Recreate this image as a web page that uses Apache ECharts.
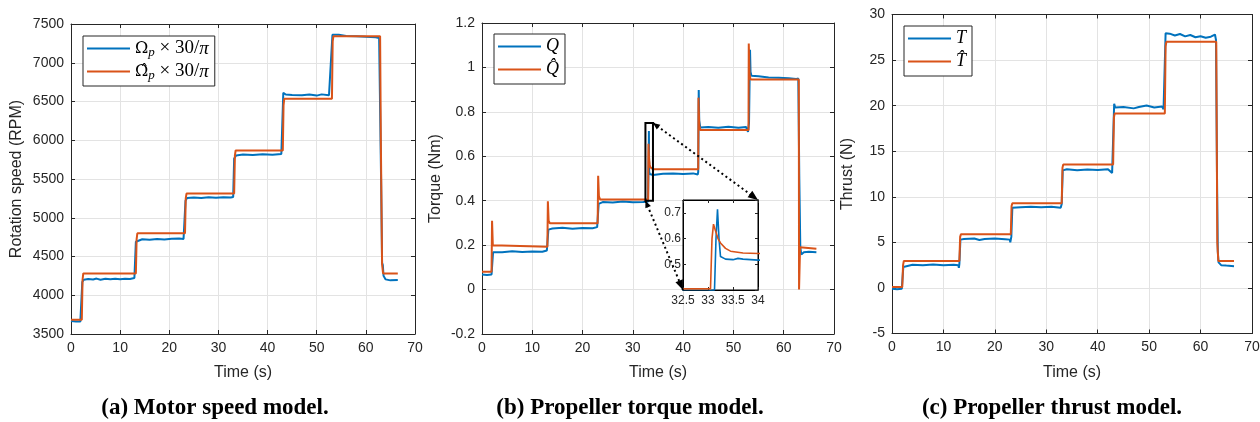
<!DOCTYPE html>
<html><head><meta charset="utf-8">
<script src="https://cdn.jsdelivr.net/npm/echarts@6/dist/echarts.min.js"></script>
<style>html,body{margin:0;padding:0;background:#fff}#c{width:1260px;height:422px}</style>
</head><body><div id="c"></div>
<script>
// ---------------- data ----------------
const timeTicks = [0, 70, 10];            // min, max, step
const speedTicks = [3500, 7500, 500];
const torqueTicks = [-0.2, 1.2, 0.2];
const thrustTicks = [-5, 30, 5];
const zoomXTicks = [32.5, 34, 0.5];
const zoomYTicks = [0.4, 0.75, 0.1];

const axisNamesY = ['Rotation speed (RPM)', 'Torque (Nm)', 'Thrust (N)'];
const axisNameX = 'Time (s)';
const captions = ['(a) Motor speed model.', '(b) Propeller torque model.', '(c) Propeller thrust model.'];
const legendNames = ['Ωp × 30/π', 'Ω̂p × 30/π', 'Q', 'Q̂', 'T', 'T̂'];

// motor speed (RPM) : [time s, value]
const speedMeasured = [[0,3668],[1,3662],[1.9,3660],[2.05,3640],[2.15,3635],[2.3,4170],[2.6,4200],[3.5,4210],[4.5,4204],[5.2,4215],[6,4200],[7,4212],[8,4205],[9,4213],[10,4207],[11,4214],[12,4211],[12.9,4222],[13.0,4210],
 [13.2,4690],[13.5,4714],[14.5,4722],[16,4716],[17.5,4726],[19,4719],[20.5,4728],[22,4731],[22.9,4726],[23.0,4708],
 [23.3,5220],[23.6,5254],[25,5262],[26.5,5256],[28,5265],[29.5,5259],[31,5266],[32.5,5261],[33.0,5268],
 [33.2,5765],[33.6,5804],[35,5815],[37,5811],[39,5818],[41,5813],[42.8,5823],[43.0,5812],
 [43.2,6612],[43.4,6632],[43.7,6590],[45,6585],[47,6581],[48.5,6589],[50,6576],[51,6592],[52.5,6580],[52.9,6568],
 [53.2,7360],[53.5,7372],[54.5,7360],[56,7344],[58,7341],[60,7335],[62,7330],[62.7,7318],[62.9,7308],
 [63.1,5500],[63.3,4420],[63.45,4390],[63.6,4250],[64,4205],[65,4192],[66.5,4196]];
const speedModel = [[0,3685],[2.2,3685],[2.35,4200],[2.5,4281],[13.2,4281],[13.35,4720],[13.5,4800],[23.2,4800],[23.35,5250],[23.5,5312],
 [33.2,5312],[33.35,5800],[33.5,5868],[43.1,5868],[43.25,6450],[43.4,6536],[53.1,6536],[53.25,7280],[53.4,7342],
 [62.9,7342],[63.05,6000],[63.3,4400],[63.5,4281],[66.5,4281]];

// propeller torque (Nm)
const torqueMeasured = [[0,0.068],[1,0.066],[1.9,0.068],[2.05,0.064],[2.2,0.168],[2.4,0.172],[4,0.168],[6,0.172],[8,0.169],[10,0.171],[12,0.17],[12.9,0.176],[13.05,0.17],
 [13.2,0.27],[14,0.275],[16,0.278],[18,0.274],[20,0.277],[22,0.276],[22.9,0.281],[23.0,0.272],
 [23.2,0.386],[24,0.394],[26,0.392],[28,0.396],[30,0.393],[32,0.394],[33.0,0.395],[33.13,0.4],[33.16,0.6],[33.19,0.714],[33.22,0.6],[33.25,0.53],[33.35,0.52],[33.5,0.518],[33.6,0.523],[33.7,0.52],[34,0.516],
 [36,0.521],[38,0.523],[40,0.52],[42,0.523],[42.9,0.518],[43.0,0.53],[43.1,0.898],[43.2,0.76],[43.4,0.73],[45,0.732],[47,0.728],[49,0.733],[51,0.729],[52.5,0.732],[52.9,0.71],
 [53.1,0.75],[53.3,1.08],[53.4,0.98],[53.6,0.962],[55,0.96],[57,0.955],[59,0.953],[61,0.951],[62.5,0.948],[62.8,0.94],[62.9,0.95],
 [63.1,0.5],[63.3,0.19],[63.5,0.158],[64,0.168],[65,0.17],[66.5,0.168]];
const torqueModel = [[0,0.08],[1.9,0.08],[2.0,0.31],[2.15,0.2],[2.4,0.193],[13.0,0.193],[13.1,0.397],[13.25,0.31],[13.5,0.298],[23.0,0.298],[23.1,0.512],[23.25,0.42],[23.5,0.405],
 [33.05,0.405],[33.08,0.6],[33.11,0.656],[33.15,0.63],[33.2,0.6],[33.25,0.583],[33.35,0.562],[33.45,0.551],[33.7,0.544],[34,0.542],
 [43.0,0.542],[43.05,0.864],[43.2,0.74],[43.4,0.718],[53.0,0.718],[53.05,1.108],[53.2,0.97],[53.4,0.946],
 [63.0,0.946],[63.05,0],[63.15,0],[63.25,0.19],[63.5,0.184],[66.5,0.184]];

// propeller thrust (N)
const thrustMeasured = [[0,-0.1],[1,-0.15],[1.9,-0.1],[2.05,-0.3],[2.2,2.3],[2.4,2.5],[4,2.55],[6,2.48],[8,2.56],[10,2.5],[12,2.55],[12.9,2.5],[13.0,2.2],[13.1,2.6],
 [13.3,5.3],[14,5.36],[16,5.42],[17,5.26],[18,5.36],[20,5.41],[22,5.35],[22.9,5.3],[23.0,5.0],[23.2,5.6],
 [23.4,8.8],[25,8.86],[27,8.92],[29,8.84],[31,8.9],[32.8,8.8],[33.0,9.2],
 [33.2,12.9],[34,13.02],[36,12.9],[38,13.0],[40,12.94],[42,13.02],[42.8,12.6],[43.0,12.8],
 [43.2,20.2],[43.4,19.8],[45,19.86],[47,19.7],[48,19.85],[49.5,20.02],[51,19.8],[52.5,19.9],[52.8,19.6],[53.0,19.8],
 [53.2,27.95],[54,27.9],[55,27.7],[56,27.86],[57,27.6],[58,27.75],[59,27.5],[60,27.62],[61,27.45],[62,27.56],[62.8,27.8],[63.0,27.2],
 [63.2,12],[63.35,4.0],[63.5,2.8],[64,2.5],[65,2.45],[66.5,2.38]];
const thrustModel = [[0,0.1],[2.0,0.1],[2.15,2.5],[2.3,2.95],[13.1,2.95],[13.25,5.6],[13.4,5.9],[23.1,5.9],[23.25,9.0],[23.4,9.3],
 [33.0,9.3],[33.15,13.2],[33.3,13.55],[43.0,13.55],[43.15,18.7],[43.3,19.15],[53.05,19.15],[53.2,26.5],[53.35,27.0],
 [63.05,27.0],[63.25,5],[63.45,2.95],[66.5,2.95]];

// ---------------- styling ----------------
const SANS = '"Liberation Sans", Arial, Helvetica, sans-serif';
const SERIF = '"Liberation Serif", "Times New Roman", serif';
const INK = '#262626';
const GRIDC = '#e3e3e3';
const BLUE = '#0072BD', ORANGE = '#D95319';
const plainNum = v => String(+(+v).toFixed(6));

const gridBoxes = [
  {left: 71, top: 24, width: 344, height: 310},
  {left: 482, top: 23, width: 352, height: 311},
  {left: 892, top: 14.5, width: 360, height: 319}
];
const insetBox = {left: 683, top: 200, width: 75, height: 90};
const yNameGaps = [46, 38, 36];

const grid = gridBoxes.map(g => Object.assign({containLabel: false, outerBoundsMode: 'none', show: false}, g));
grid.push(Object.assign({containLabel: false, outerBoundsMode: 'none', show: true, backgroundColor: '#fff', borderColor: '#000', borderWidth: 1, z: 4}, insetBox));

const tickRanges = [speedTicks, torqueTicks, thrustTicks];
const xAxis = [], yAxis = [];
function mainAxis(gi, r, pos, labels, extra) {
  return Object.assign({
    type: 'value', gridIndex: gi, min: r[0], max: r[1], interval: r[2], position: pos,
    axisLine: {show: true, onZero: false, lineStyle: {color: INK, width: 1}},
    axisTick: {show: true, inside: true, length: 4, lineStyle: {color: INK, width: 1}},
    axisLabel: {show: labels, fontFamily: SANS, fontSize: 14, color: INK, margin: 7, hideOverlap: false, formatter: plainNum},
    splitLine: {show: labels, lineStyle: {color: GRIDC, width: 1}}
  }, extra || {});
}
for (let i = 0; i < 3; i++) {
  xAxis.push(mainAxis(i, timeTicks, 'bottom', true, {
    name: axisNameX, nameLocation: 'middle', nameGap: 31,
    nameTextStyle: {fontFamily: SANS, fontSize: 16, color: INK}
  }));
  xAxis.push(mainAxis(i, timeTicks, 'top', false));
  yAxis.push(mainAxis(i, tickRanges[i], 'left', true, {
    name: axisNamesY[i], nameLocation: 'middle', nameGap: yNameGaps[i], nameRotate: 90,
    nameTextStyle: {fontFamily: SANS, fontSize: 16, color: INK}
  }));
  yAxis.push(mainAxis(i, tickRanges[i], 'right', false));
}
// inset axes
const insetAxis = (r, pos, labels, margin) => ({
  type: 'value', gridIndex: 3, min: r[0], max: r[1], interval: r[2], position: pos, z: 5,
  axisLine: {show: true, onZero: false, lineStyle: {color: '#000', width: 1}},
  axisTick: {show: true, inside: true, length: 3, lineStyle: {color: INK}},
  axisLabel: {show: labels, fontFamily: SANS, fontSize: 12, color: INK, margin: margin, formatter: plainNum,
    showMinLabel: pos === 'bottom', showMaxLabel: pos === 'bottom', hideOverlap: false},
  splitLine: {show: false}
});
xAxis.push(insetAxis(zoomXTicks, 'bottom', true, 5));
xAxis.push(insetAxis(zoomXTicks, 'top', false, 5));
yAxis.push(insetAxis(zoomYTicks, 'left', true, 2));
yAxis.push(insetAxis(zoomYTicks, 'right', false, 2));

// legends
const rich = {
  m: {fontFamily: SERIF, fontSize: 19, color: '#000', lineHeight: 21},
  g: {fontFamily: '"DejaVu Serif", serif', fontSize: 16, color: '#000', lineHeight: 21},
  i: {fontFamily: SERIF, fontStyle: 'italic', fontSize: 18, color: '#000', lineHeight: 21},
  pi: {fontFamily: SERIF, fontStyle: 'italic', fontSize: 19, color: '#000', lineHeight: 21},
  s: {fontFamily: SERIF, fontStyle: 'italic', fontSize: 13, color: '#000', lineHeight: 9, verticalAlign: 'bottom'}
};
const legendRich = {
  'Ωp × 30/π': '{g|Ω}{s|p}{m| × 30/}{pi|π}',
  'Ω̂p × 30/π': '{g|Ω\u0302}{s|p}{m| × 30/}{pi|π}',
  'Q': '{i|Q}', 'Q̂': '{i|Q\u0302}', 'T': '{i|T}', 'T̂': '{i|T\u0302}'
};
const legendPos = [{left: 83, top: 36}, {left: 494, top: 34}, {left: 904, top: 26}];
const legend = legendPos.map((p, i) => Object.assign({
  data: [legendNames[2 * i], legendNames[2 * i + 1]],
  orient: 'vertical', padding: [2, 6, 4, 4], itemGap: 2,
  itemWidth: 43, itemHeight: 2, icon: 'rect', selectedMode: false,
  borderColor: INK, borderWidth: 1, backgroundColor: '#fff', z: 8,
  formatter: n => legendRich[n],
  textStyle: {fontFamily: SERIF, fontSize: 18, color: '#000', lineHeight: 21, rich: rich}
}, p));

const dataSets = [[speedMeasured, speedModel], [torqueMeasured, torqueModel], [thrustMeasured, thrustModel]];
const series = [];
dataSets.forEach((pair, i) => {
  pair.forEach((d, k) => {
    const s = {
      type: 'line', name: legendNames[2 * i + k], xAxisIndex: 2 * i, yAxisIndex: 2 * i,
      data: d, symbol: 'none', showSymbol: false, z: 2 + k,
      lineStyle: {width: 2, color: k ? ORANGE : BLUE}, itemStyle: {color: k ? ORANGE : BLUE}
    };
    if (i === 1 && k === 1) {
      s.markArea = {silent: true, z: 4,
        itemStyle: {color: 'rgba(0,0,0,0)', borderColor: '#000', borderWidth: 2},
        data: [[{coord: [zoomXTicks[0], zoomYTicks[0]]}, {coord: [zoomXTicks[1], zoomYTicks[1]]}]]};
    }
    series.push(s);
  });
});
series.push({type: 'line', name: legendNames[2], xAxisIndex: 6, yAxisIndex: 6, data: torqueMeasured, symbol: 'none', z: 6, clip: true,
  lineStyle: {width: 1.6, color: BLUE}, itemStyle: {color: BLUE}});
series.push({type: 'line', name: legendNames[3], xAxisIndex: 6, yAxisIndex: 6, data: torqueModel, symbol: 'none', z: 7, clip: true,
  lineStyle: {width: 1.6, color: ORANGE}, itemStyle: {color: ORANGE}});

const chart = echarts.init(document.getElementById('c'), null, {renderer: 'canvas'});
chart.setOption({animation: false, backgroundColor: '#fff', grid, xAxis, yAxis, legend, series});

// captions and zoom arrows
const capX = [215, 630, 1052];
const graphic = captions.map((t, i) => ({
  type: 'text', x: capX[i], y: 408, z: 10,
  style: {text: t, fontFamily: SERIF, fontWeight: 'bold', fontSize: 23, fill: '#000', align: 'center', verticalAlign: 'middle'}
}));
function head(tip, from, len, wid) {
  const dx = tip[0] - from[0], dy = tip[1] - from[1], L = Math.hypot(dx, dy);
  const ux = dx / L, uy = dy / L, bx = tip[0] - ux * len, by = tip[1] - uy * len;
  return [[tip[0], tip[1]], [bx - uy * wid / 2, by + ux * wid / 2], [bx + uy * wid / 2, by - ux * wid / 2]];
}
function arrow(a, b) {
  graphic.push({type: 'line', z: 20, shape: {x1: a[0], y1: a[1], x2: b[0], y2: b[1]}, style: {stroke: '#000', lineWidth: 2, lineDash: [2, 3]}});
  graphic.push({type: 'polygon', z: 20, shape: {points: head(b, a, 10, 8)}, style: {fill: '#000'}});
  graphic.push({type: 'polygon', z: 20, shape: {points: head(a, b, 7, 6)}, style: {fill: '#000'}});
}
const rTR = chart.convertToPixel({gridIndex: 1}, [zoomXTicks[1], zoomYTicks[1]]);
const rBL = chart.convertToPixel({gridIndex: 1}, [zoomXTicks[0], zoomYTicks[0]]);
const iTR = chart.convertToPixel({gridIndex: 3}, [zoomXTicks[1], zoomYTicks[1]]);
const iBL = chart.convertToPixel({gridIndex: 3}, [zoomXTicks[0], zoomYTicks[0]]);
arrow(rTR, iTR);
arrow(rBL, iBL);
chart.setOption({graphic});
</script></body></html>
